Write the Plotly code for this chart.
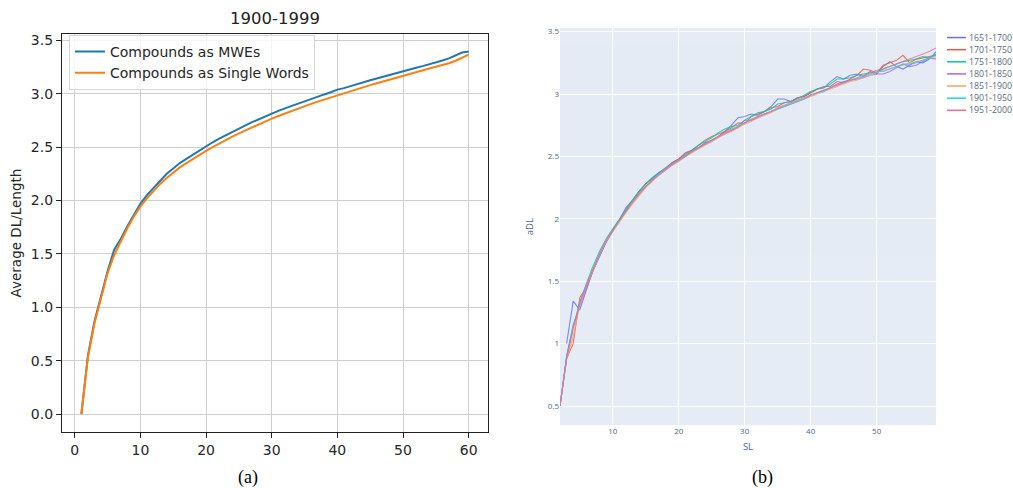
import plotly.graph_objects as go

W, H = 1013, 488

# ---------------- panel (a) data ----------------
a_x = list(range(1, 61))
a_mwe = [0.00, 0.55, 0.87, 1.11, 1.34, 1.54, 1.64, 1.76, 1.87, 1.97,
         2.05, 2.12, 2.19, 2.25, 2.30, 2.35, 2.39, 2.43, 2.47, 2.51,
         2.545, 2.58, 2.613, 2.645, 2.675, 2.704, 2.733, 2.761, 2.788, 2.815,
         2.839, 2.862, 2.885, 2.908, 2.93, 2.951, 2.972, 2.993, 3.013, 3.038,
         3.052, 3.072, 3.09, 3.107, 3.125, 3.142, 3.16, 3.178, 3.192, 3.21,
         3.226, 3.243, 3.258, 3.274, 3.29, 3.31, 3.33, 3.36, 3.385, 3.395]
a_single = [0.00, 0.53, 0.85, 1.09, 1.32, 1.49, 1.62, 1.74, 1.85, 1.945,
            2.02, 2.09, 2.155, 2.21, 2.26, 2.31, 2.35, 2.39, 2.43, 2.465,
            2.50, 2.535, 2.567, 2.598, 2.628, 2.657, 2.686, 2.713, 2.74, 2.767,
            2.791, 2.815, 2.838, 2.861, 2.884, 2.905, 2.926, 2.946, 2.966, 2.986,
            3.005, 3.025, 3.043, 3.062, 3.08, 3.098, 3.116, 3.134, 3.15, 3.168,
            3.185, 3.202, 3.218, 3.235, 3.252, 3.268, 3.285, 3.308, 3.335, 3.365]
a_title = "1900-1999"
a_names = ["Compounds as MWEs", "Compounds as Single Words"]

# ---------------- panel (b) data ----------------
b_sl = list(range(2, 60))
b_sl_1651 = list(range(3, 60))
b_1651 = [1.00, 1.34, 1.27, 1.43, 1.59, 1.70, 1.82, 1.91, 1.99, 2.09, 2.15, 2.22, 2.28, 2.32,
          2.37, 2.40, 2.45, 2.48, 2.52, 2.55, 2.57, 2.61, 2.63, 2.66, 2.70, 2.75, 2.81, 2.82,
          2.84, 2.83, 2.86, 2.90, 2.96, 2.96, 2.94, 2.97, 2.98, 3.01, 3.04, 3.05, 3.10, 3.14,
          3.12, 3.15, 3.16, 3.14, 3.18, 3.16, 3.22, 3.26, 3.22, 3.20, 3.23, 3.26, 3.25, 3.28, 3.34]
b_1701 = [0.50, 0.88, 1.00, 1.37, 1.45, 1.58, 1.71, 1.82, 1.91, 1.99, 2.07, 2.15, 2.22, 2.28,
          2.33, 2.37, 2.41, 2.45, 2.48, 2.53, 2.55, 2.59, 2.63, 2.66, 2.68, 2.70, 2.73, 2.77,
          2.76, 2.82, 2.84, 2.86, 2.89, 2.90, 2.93, 2.94, 2.97, 2.98, 3.01, 3.04, 3.06, 3.06,
          3.10, 3.09, 3.12, 3.15, 3.20, 3.19, 3.17, 3.23, 3.25, 3.27, 3.31, 3.25, 3.28, 3.29,
          3.30, 3.31]
b_1751 = [0.50, 0.89, 1.13, 1.33, 1.48, 1.62, 1.74, 1.84, 1.92, 2.00, 2.08, 2.15, 2.22, 2.28,
          2.33, 2.37, 2.40, 2.44, 2.47, 2.51, 2.55, 2.59, 2.62, 2.65, 2.69, 2.72, 2.74, 2.75,
          2.79, 2.82, 2.85, 2.86, 2.88, 2.92, 2.93, 2.94, 2.96, 2.99, 3.02, 3.04, 3.05, 3.08,
          3.12, 3.12, 3.13, 3.15, 3.16, 3.17, 3.17, 3.20, 3.22, 3.24, 3.26, 3.27, 3.28, 3.30,
          3.29, 3.32]
b_1801 = [0.50, 0.90, 1.15, 1.30, 1.44, 1.59, 1.70, 1.81, 1.90, 1.99, 2.06, 2.13, 2.20, 2.26,
          2.31, 2.36, 2.40, 2.44, 2.47, 2.50, 2.54, 2.57, 2.60, 2.62, 2.66, 2.68, 2.71, 2.73,
          2.79, 2.79, 2.81, 2.84, 2.86, 2.88, 2.90, 2.92, 2.94, 2.96, 2.99, 3.01, 3.03, 3.05,
          3.08, 3.10, 3.11, 3.12, 3.13, 3.15, 3.16, 3.16, 3.18, 3.21, 3.24, 3.22, 3.23, 3.26,
          3.29, 3.28]
b_1851 = [0.50, 0.87, 1.06, 1.30, 1.46, 1.59, 1.71, 1.82, 1.90, 1.98, 2.05, 2.12, 2.19, 2.25,
          2.30, 2.35, 2.39, 2.43, 2.46, 2.50, 2.53, 2.56, 2.59, 2.62, 2.65, 2.68, 2.70, 2.73,
          2.76, 2.78, 2.81, 2.83, 2.85, 2.88, 2.90, 2.92, 2.94, 2.96, 2.98, 3.00, 3.02, 3.04,
          3.06, 3.08, 3.10, 3.11, 3.13, 3.15, 3.17, 3.19, 3.20, 3.22, 3.23, 3.25, 3.26, 3.27,
          3.29, 3.30]
b_1901 = [0.50, 0.89, 1.14, 1.32, 1.47, 1.60, 1.72, 1.83, 1.91, 1.99, 2.07, 2.14, 2.20, 2.26,
          2.31, 2.36, 2.40, 2.44, 2.47, 2.51, 2.54, 2.57, 2.60, 2.63, 2.66, 2.69, 2.72, 2.74,
          2.77, 2.80, 2.82, 2.84, 2.86, 2.88, 2.90, 2.92, 2.94, 2.96, 2.99, 3.01, 3.02, 3.05,
          3.07, 3.09, 3.11, 3.12, 3.14, 3.16, 3.18, 3.18, 3.20, 3.22, 3.24, 3.24, 3.25, 3.27,
          3.29, 3.32]
b_1951 = [0.50, 0.88, 1.12, 1.32, 1.47, 1.60, 1.72, 1.83, 1.91, 1.99, 2.07, 2.14, 2.20, 2.26,
          2.31, 2.35, 2.39, 2.43, 2.47, 2.50, 2.54, 2.57, 2.60, 2.63, 2.66, 2.69, 2.71, 2.74,
          2.77, 2.79, 2.82, 2.84, 2.86, 2.89, 2.91, 2.93, 2.95, 2.97, 2.99, 3.01, 3.03, 3.05,
          3.07, 3.09, 3.11, 3.13, 3.15, 3.17, 3.19, 3.20, 3.22, 3.24, 3.26, 3.28, 3.30, 3.32,
          3.34, 3.37]
b_names = ["1651-1700", "1701-1750", "1751-1800", "1801-1850", "1851-1900", "1901-1950", "1951-2000"]
b_colors = ["#636efa", "#EF553B", "#00cc96", "#ab63fa", "#FFA15A", "#19d3f3", "#FF6692"]
b_xs = [b_sl_1651, b_sl, b_sl, b_sl, b_sl, b_sl, b_sl]
b_ys = [b_1651, b_1701, b_1751, b_1801, b_1851, b_1901, b_1951]


def px(x):
    return x / W


def py(y):
    return 1 - y / H


fig = go.Figure()

# panel (a)
a_colors = ["#1f77b4", "#ff7f0e"]
for name, col, ys in zip(a_names, a_colors, [a_mwe, a_single]):
    fig.add_trace(go.Scatter(x=a_x, y=ys, mode="lines", name=name,
                             line=dict(color=col, width=2),
                             xaxis="x", yaxis="y", showlegend=True))

# panel (b)
for name, col, xs, ys in zip(b_names, b_colors, b_xs, b_ys):
    fig.add_trace(go.Scatter(x=xs, y=ys, mode="lines", name=name,
                             line=dict(color=col, width=1.1), opacity=0.8,
                             xaxis="x2", yaxis="y2", showlegend=False))

mpl_font = dict(family="DejaVu Sans", size=14, color="#262626")
ply_font = dict(family="Open Sans", size=8, color="#506784")

shapes = [dict(type="rect", xref="x2 domain", yref="y2 domain", x0=0, x1=1, y0=0, y1=1,
               fillcolor="#E5ECF6", line=dict(width=0), layer="below")]
annotations = [
    dict(text=a_title, x=px(275), y=py(17), xref="paper", yref="paper", showarrow=False,
         xanchor="center", yanchor="middle",
         font=dict(family="DejaVu Sans", size=16.5, color="#222")),
    dict(text="(a)", x=px(248), y=py(477), xref="paper", yref="paper", showarrow=False,
         xanchor="center", yanchor="middle",
         font=dict(family="Liberation Serif", size=18, color="#000")),
    dict(text="(b)", x=px(762), y=py(477), xref="paper", yref="paper", showarrow=False,
         xanchor="center", yanchor="middle",
         font=dict(family="Liberation Serif", size=18, color="#000")),
]
# manual compact legend for panel (b)
for i, (name, col) in enumerate(zip(b_names, b_colors)):
    yy = 35.7 + 12.17 * i
    shapes.append(dict(type="line", xref="paper", yref="paper", x0=px(947), x1=px(966),
                       y0=py(yy), y1=py(yy), line=dict(color=col, width=1.5)))
    annotations.append(dict(text=name, x=px(968), y=py(yy), xref="paper", yref="paper",
                            xanchor="left", yanchor="middle", showarrow=False, borderpad=0,
                            font=dict(family="Open Sans", size=8.8, color="#5a6b80")))

fig.update_layout(
    width=W, height=H, margin=dict(l=0, r=0, t=0, b=0),
    paper_bgcolor="white", plot_bgcolor="white",
    showlegend=True,
    legend=dict(x=px(69), y=py(33), xanchor="left", yanchor="top",
                bgcolor="rgba(255,255,255,0.8)", bordercolor="#d5d5d5", borderwidth=1,
                font=mpl_font),
    xaxis=dict(domain=[px(62), px(488)], range=[-1.95, 62.95], anchor="y",
               tickvals=[0, 10, 20, 30, 40, 50, 60], showgrid=True, gridcolor="#cfcfcf", gridwidth=1,
               showline=True, mirror=True, linecolor="#222", linewidth=1.2,
               ticks="outside", ticklen=5, tickcolor="#222", tickfont=mpl_font, zeroline=False),
    yaxis=dict(domain=[py(432), py(32)], range=[-0.17, 3.56], anchor="x",
               tickvals=[0, 0.5, 1, 1.5, 2, 2.5, 3, 3.5], tickformat=".1f",
               showgrid=True, gridcolor="#cfcfcf", gridwidth=1,
               showline=True, mirror=True, linecolor="#222", linewidth=1.2,
               ticks="outside", ticklen=5, tickcolor="#222", tickfont=mpl_font, zeroline=False,
               title=dict(text="Average DL/Length", font=dict(family="DejaVu Sans", size=13.5, color="#262626"),
                          standoff=6)),
    xaxis2=dict(domain=[px(560), px(936)], range=[2, 59], anchor="y2",
                tickvals=[10, 20, 30, 40, 50], showgrid=True, gridcolor="white", gridwidth=1,
                showline=False, ticks="", tickfont=ply_font, zeroline=False,
                title=dict(text="SL", font=dict(family="Open Sans", size=9.5, color="#506784"), standoff=8)),
    yaxis2=dict(domain=[py(425), py(26)], range=[0.346, 3.53], anchor="x2",
                tickvals=[0.5, 1, 1.5, 2, 2.5, 3, 3.5], ticktext=["0.5", "1", "1.5", "2", "2.5", "3", "3.5"],
                showgrid=True, gridcolor="white", gridwidth=1,
                showline=False, ticks="", tickfont=ply_font, zeroline=False,
                title=dict(text="aDL", font=dict(family="Open Sans", size=9.5, color="#506784"), standoff=12)),
    shapes=shapes, annotations=annotations,
)

fig.write_html("out.html", config={"displayModeBar": False},
               post_script="document.body.style.margin='0';document.body.style.padding='0';")
